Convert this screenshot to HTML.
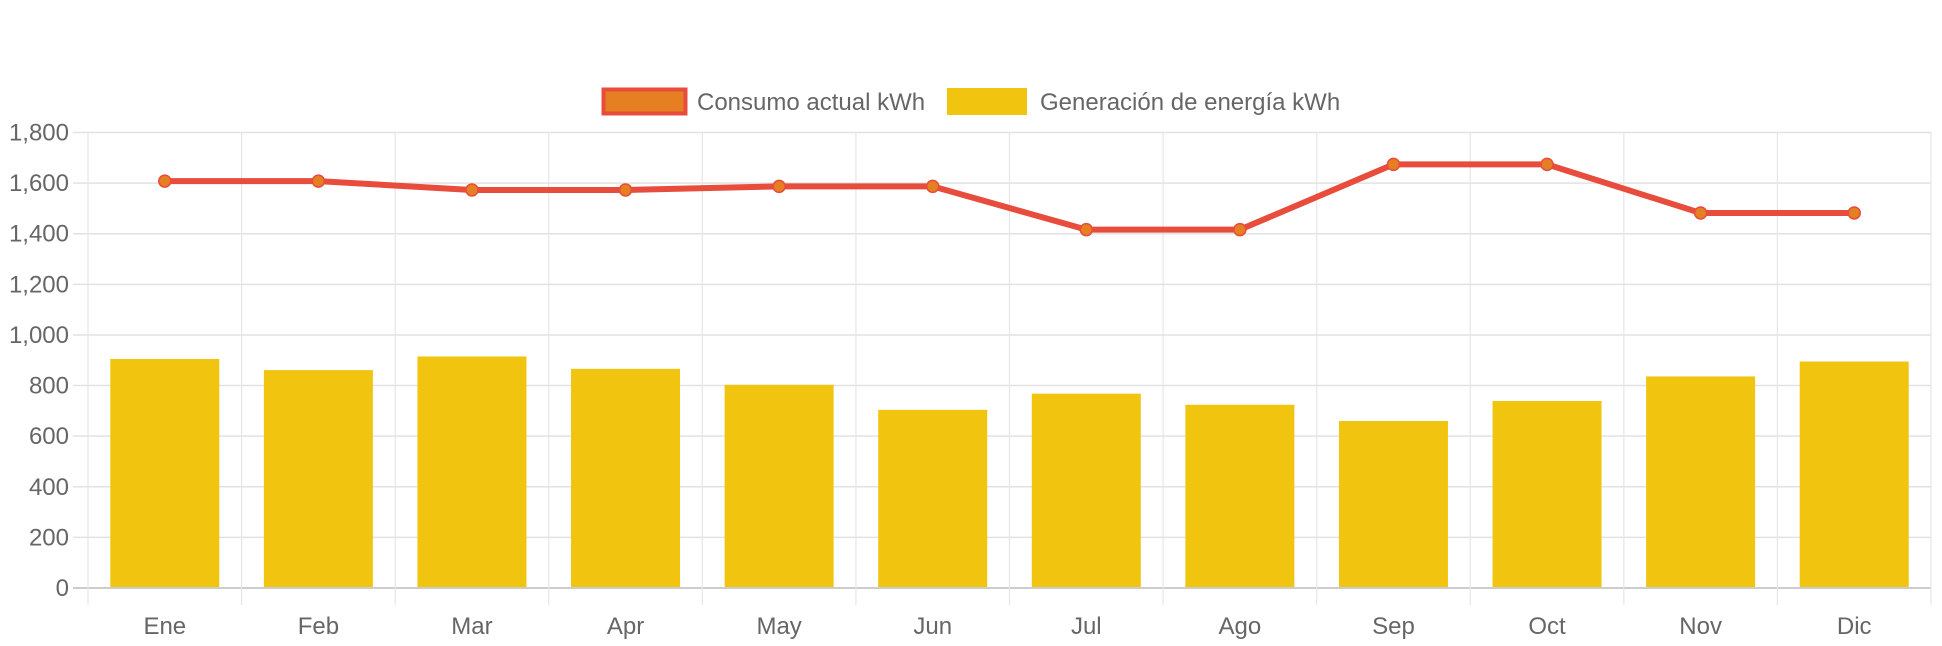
<!DOCTYPE html>
<html><head><meta charset="utf-8"><style>
body{margin:0;background:#fff;}
svg{display:block;font-family:"Liberation Sans",Arial,sans-serif;}
</style></head><body>
<svg id="chart" width="1942" height="646" xmlns="http://www.w3.org/2000/svg">
<g id="legend">
 <g>
  <rect x="603.5" y="89.5" width="82" height="24" fill="#e67e22" stroke="#e74c3c" stroke-width="4"/>
  <text x="697" y="110" font-size="24" fill="#666">Consumo actual kWh</text>
 </g>
 <g>
  <rect x="947" y="88" width="80" height="27" fill="#f1c40f"/>
  <text x="1040" y="110" font-size="24" fill="#666">Generación de energía kWh</text>
 </g>
</g>
<g id="grid"></g>
<g id="bars"></g>
<g id="line"></g>
<g id="xlabels"></g>
<g id="ylabels"></g>
</svg>
<script>
const categories=["Ene","Feb","Mar","Apr","May","Jun","Jul","Ago","Sep","Oct","Nov","Dic"];
const consumo=[1608,1608,1573,1573,1587,1587,1416,1416,1674,1674,1482,1482];
const generacion=[905,861,915,866,803,704,768,724,660,739,836,895];
const yTicks=[0,200,400,600,800,1000,1200,1400,1600,1800];
const yTickLabels=["0","200","400","600","800","1,000","1,200","1,400","1,600","1,800"];
const NS="http://www.w3.org/2000/svg";
const L=88,R=1931,T=132.5,B=588,YMAX=1800;
const cw=(R-L)/categories.length;
function xC(i){return L+cw*(i+0.5);}
function y(v){return B-(v/YMAX)*(B-T);}
function mk(tag,attrs,parent){const e=document.createElementNS(NS,tag);for(const k in attrs)e.setAttribute(k,attrs[k]);parent.appendChild(e);return e;}
const grid=document.getElementById('grid');
yTicks.forEach((t,i)=>{
 const ln=mk('line',{x1:73,x2:R,y1:y(t),y2:y(t),stroke:i===0?'#ccc':'#e2e2e2','stroke-width':i===0?2:1.5},grid);
 
 
 const tx=mk('text',{x:69,y:y(t)+8,'text-anchor':'end','font-size':24,fill:'#666'},document.getElementById('ylabels'));
 tx.textContent=yTickLabels[i];
 
 
});
for(let i=0;i<=categories.length;i++){
 const x=L+cw*i;
 const ln=mk('line',{x1:x,x2:x,y1:T,y2:605,stroke:'#e6e6e6','stroke-width':1.2},grid);
 
 
}
const bw=109;
generacion.forEach((v,i)=>{
 const r=mk('rect',{x:xC(i)-bw/2,y:y(v),width:bw,height:B-1-y(v),fill:'#f1c40f'},document.getElementById('bars'));
 
 
});
const lg=document.getElementById('line');
const pl=mk('polyline',{points:consumo.map((v,i)=>xC(i)+','+y(v)).join(' '),fill:'none',stroke:'#e74c3c','stroke-width':6,'stroke-linejoin':'round'},lg);


consumo.forEach((v,i)=>{
 const c=mk('circle',{cx:xC(i),cy:y(v),r:6,fill:'#e67e22',stroke:'#e74c3c','stroke-width':1.5},lg);
 
 
});
categories.forEach((c,i)=>{
 const t=mk('text',{x:xC(i),y:634,'text-anchor':'middle','font-size':24,fill:'#666'},document.getElementById('xlabels'));
 t.textContent=c;
 
 
});
</script>
</body></html>
